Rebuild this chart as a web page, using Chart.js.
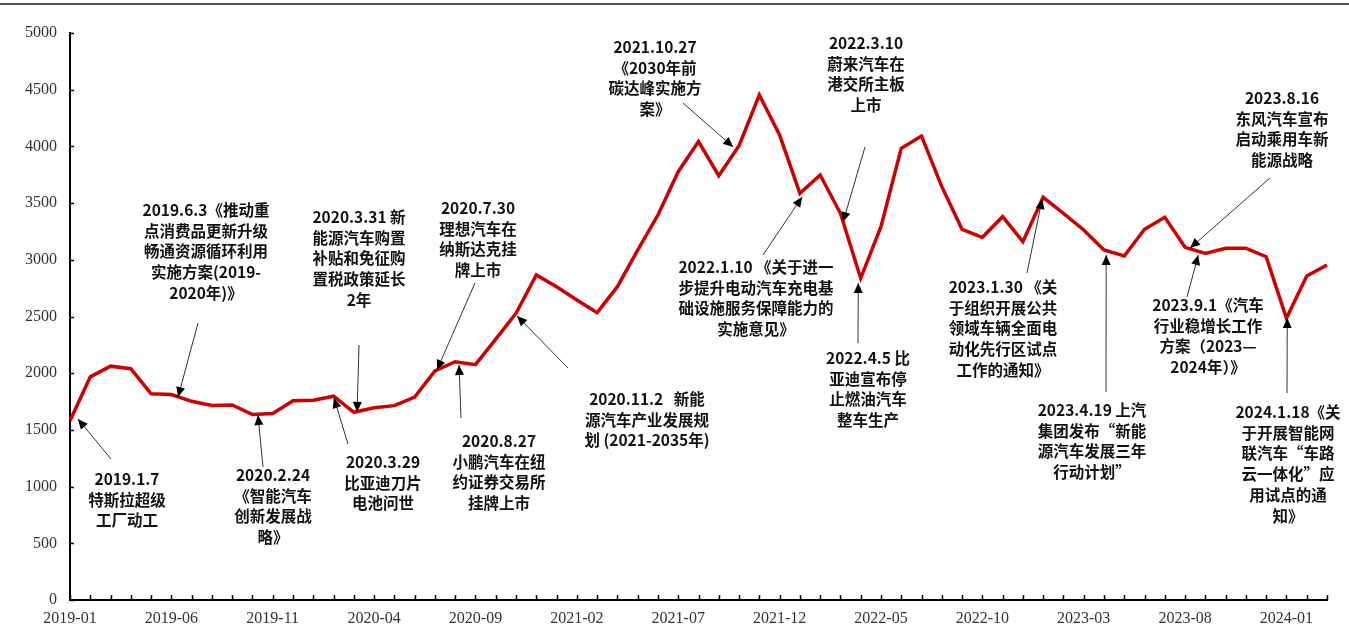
<!DOCTYPE html>
<html>
<head>
<meta charset="utf-8">
<script src="https://cdn.jsdelivr.net/npm/chart.js@4.4.1/dist/chart.umd.min.js"></script>
<style>
    body { margin: 0; background: #fff; }
    .frame { position: relative; width: 1349px; height: 628px; }
    .topLine { position: absolute; left: 0; top: 3px; width: 1349px; height: 2px; background: #555; }
    canvas { position: absolute; left: 0; top: 0; }
</style>
</head>
<body>
<div class="frame">
    <div class="topLine"></div>
    <canvas id="evChart" width="1349" height="628"></canvas>
</div>
<script>
//Months on the x axis (2019-01 .. 2024-03)
const months = [
    "2019-01", "2019-02", "2019-03", "2019-04", "2019-05", "2019-06", "2019-07", "2019-08", "2019-09", "2019-10", "2019-11", "2019-12",
    "2020-01", "2020-02", "2020-03", "2020-04", "2020-05", "2020-06", "2020-07", "2020-08", "2020-09", "2020-10", "2020-11", "2020-12",
    "2021-01", "2021-02", "2021-03", "2021-04", "2021-05", "2021-06", "2021-07", "2021-08", "2021-09", "2021-10", "2021-11", "2021-12",
    "2022-01", "2022-02", "2022-03", "2022-04", "2022-05", "2022-06", "2022-07", "2022-08", "2022-09", "2022-10", "2022-11", "2022-12",
    "2023-01", "2023-02", "2023-03", "2023-04", "2023-05", "2023-06", "2023-07", "2023-08", "2023-09", "2023-10", "2023-11", "2023-12",
    "2024-01", "2024-02", "2024-03"
];

//Monthly index values
const indexValues = [
    1580, 1968, 2062, 2040, 1818, 1812, 1752, 1715, 1720, 1635, 1645, 1757,
    1762, 1797, 1655, 1695, 1714, 1790, 2020, 2101, 2075, 2300, 2528, 2866,
    2763, 2646, 2534, 2763, 3086, 3395, 3777, 4042, 3742, 4006, 4453, 4101,
    3586, 3748, 3410, 2837, 3292, 3983, 4092, 3645, 3269, 3198, 3380, 3160,
    3551, 3410, 3263, 3086, 3034, 3269, 3375, 3110, 3057, 3101, 3101, 3027,
    2484, 2857, 2954
];

//Y axis ticks
const yTicks = [0, 500, 1000, 1500, 2000, 2500, 3000, 3500, 4000, 4500, 5000];

//Event notes: text block (x, first line y), arrow tail, arrow head as (month index, value)
const events = [
    {x: 127, y: 479, lines: ["2019.1.7", "特斯拉超级", "工厂动工"], tail: [111, 459], head: [0.39, 1596]},
    {x: 206, y: 210, lines: ["2019.6.3《推动重", "点消费品更新升级", "畅通资源循环利用", "实施方案(2019-", "2020年)》"], tail: [198, 323], head: [5.33, 1790]},
    {x: 273, y: 475, lines: ["2020.2.24", "《智能汽车", "创新发展战", "略》"], tail: [263, 467], head: [9.27, 1631]},
    {x: 359, y: 217, lines: ["2020.3.31 新", "能源汽车购置", "补贴和免征购", "置税政策延长", "2年"], tail: [359, 345], head: [14.16, 1658]},
    {x: 383, y: 462, lines: ["2020.3.29", "比亚迪刀片", "电池问世"], tail: [348, 444], head: [13.02, 1781]},
    {x: 478, y: 208, lines: ["2020.7.30", "理想汽车在", "纳斯达克挂", "牌上市"], tail: [475, 283], head: [18.1, 2028]},
    {x: 499, y: 441, lines: ["2020.8.27", "小鹏汽车在纽", "约证券交易所", "挂牌上市"], tail: [461, 418], head: [19.19, 2072]},
    {x: 647, y: 399, lines: ["2020.11.2   新能", "源汽车产业发展规", "划 (2021-2035年)"], tail: [568, 368], head: [22.05, 2504]},
    {x: 655, y: 47, lines: ["2021.10.27", "《2030年前", "碳达峰实施方", "案》"], tail: [683, 103], head: [32.71, 3995]},
    {x: 756, y: 267, lines: ["2022.1.10 《关于进一", "步提升电动汽车充电基", "础设施服务保障能力的", "实施意见》"], tail: [763, 255], head: [36.11, 3554]},
    {x: 866, y: 43, lines: ["2022.3.10", "蔚来汽车在", "港交所主板", "上市"], tail: [865, 147], head: [38.13, 3333]},
    {x: 868, y: 358, lines: ["2022.4.5 比", "亚迪宣布停", "止燃油汽车", "整车生产"], tail: [858, 343], head: [38.88, 2795]},
    {x: 1003, y: 287, lines: ["2023.1.30 《关", "于组织开展公共", "领域车辆全面电", "动化先行区试点", "工作的通知》"], tail: [1027, 273], head: [47.95, 3536]},
    {x: 1092, y: 410, lines: ["2023.4.19 上汽", "集团发布“新能", "源汽车发展三年", "行动计划”"], tail: [1106, 392], head: [51.11, 3042]},
    {x: 1282, y: 98, lines: ["2023.8.16", "东风汽车宣布", "启动乘用车新", "能源战略"], tail: [1270, 178], head: [55.25, 3104]},
    {x: 1208, y: 305, lines: ["2023.9.1《汽车", "行业稳增长工作", "方案（2023—", "2024年）》"], tail: [1187, 297], head: [55.65, 3042]},
    {x: 1288, y: 412, lines: ["2024.1.18《关", "于开展智能网", "联汽车“车路", "云一体化”应", "用试点的通", "知》"], tail: [1287, 393], head: [60.04, 2487]}
];

//Draws small tick marks on the inside of both axes
const innerTicks = {
    id: "innerTicks",
    afterDraw(chart) {
        const ctx = chart.ctx;
        const x = chart.scales.x;
        const y = chart.scales.y;
        ctx.save();
        ctx.strokeStyle = "#000";
        ctx.lineWidth = 1.5;
        ctx.beginPath();
        for (let i = 0; i < months.length; i++) {
            const px = Math.round(x.getPixelForValue(i)) + 0.5;
            ctx.moveTo(px, y.bottom);
            ctx.lineTo(px, y.bottom - 5);
        }
        for (let i = 0; i < yTicks.length; i++) {
            const py = Math.round(y.getPixelForValue(yTicks[i])) + 0.5;
            ctx.moveTo(x.left, py);
            ctx.lineTo(x.left + 4, py);
        }
        ctx.stroke();
        ctx.restore();
    }
};

//Draws the event notes with their arrows
const eventNotes = {
    id: "eventNotes",
    afterDraw(chart) {
        const ctx = chart.ctx;
        const x = chart.scales.x;
        const y = chart.scales.y;
        ctx.save();
        for (let i = 0; i < events.length; i++) {
            const e = events[i];
            const hx = x.getPixelForValue(e.head[0]);
            const hy = y.getPixelForValue(e.head[1]);
            const tx = e.tail[0];
            const ty = e.tail[1];

            //Arrow shaft
            ctx.strokeStyle = "#333";
            ctx.lineWidth = 1;
            ctx.beginPath();
            ctx.moveTo(tx, ty);
            ctx.lineTo(hx, hy);
            ctx.stroke();

            //Arrow head
            const ang = Math.atan2(hy - ty, hx - tx);
            const len = 10, half = 4.5;
            ctx.fillStyle = "#000";
            ctx.beginPath();
            ctx.moveTo(hx, hy);
            ctx.lineTo(hx - len * Math.cos(ang) + half * Math.sin(ang), hy - len * Math.sin(ang) - half * Math.cos(ang));
            ctx.lineTo(hx - len * Math.cos(ang) - half * Math.sin(ang), hy - len * Math.sin(ang) + half * Math.cos(ang));
            ctx.closePath();
            ctx.fill();

            //Text lines
            ctx.fillStyle = "#111";
            ctx.font = "bold 15.5px 'Noto Sans CJK SC', sans-serif";
            ctx.textAlign = "center";
            ctx.textBaseline = "middle";
            for (let j = 0; j < e.lines.length; j++) {
                ctx.fillText(e.lines[j], e.x, e.y + j * 20.8);
            }
        }
        ctx.restore();
    }
};

new Chart(document.getElementById("evChart"), {
    type: "line",
    data: {
        labels: months,
        datasets: [{
            data: indexValues,
            borderColor: "#CC0000",
            borderWidth: 3.5,
            borderJoinStyle: "miter",
            pointRadius: 0,
            tension: 0,
            fill: false
        }]
    },
    options: {
        responsive: false,
        animation: false,
        devicePixelRatio: 1,
        layout: {
            padding: {top: 33, right: 22, left: 0, bottom: 0}
        },
        plugins: {
            legend: {display: false},
            tooltip: {enabled: false}
        },
        scales: {
            x: {
                type: "category",
                offset: false,
                afterFit: (s) => { s.height = 28; },
                grid: {drawOnChartArea: false, drawTicks: false},
                border: {display: true, color: "#000", width: 2},
                ticks: {
                    autoSkip: false,
                    maxRotation: 0,
                    padding: 9,
                    color: "#333",
                    font: {family: "'Liberation Serif', serif", size: 16},
                    callback: (v, i) => (i % 5 === 0 ? months[i] : "")
                }
            },
            y: {
                min: 0,
                max: 5000,
                afterFit: (s) => { s.width = 70; },
                grid: {drawOnChartArea: false, drawTicks: false},
                border: {display: true, color: "#000", width: 2},
                ticks: {
                    stepSize: 500,
                    padding: 13,
                    color: "#333",
                    font: {family: "'Liberation Serif', serif", size: 16},
                    callback: (v) => String(v)
                }
            }
        }
    },
    plugins: [innerTicks, eventNotes]
});
</script>
</body>
</html>
